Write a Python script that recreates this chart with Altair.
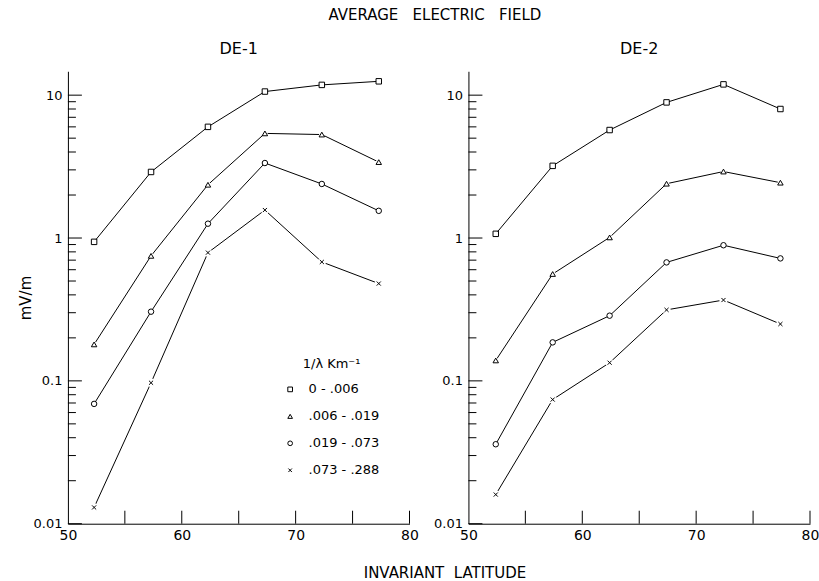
import altair as alt
import pandas as pd

# ---------------- data ----------------
bands = ["0 - .006", ".006 - .019", ".019 - .073", ".073 - .288"]

lat_de1 = [52.3, 57.3, 62.3, 67.3, 72.3, 77.3]
de1_b1 = [0.94, 2.9, 6.0, 10.6, 11.8, 12.5]
de1_b2 = [0.18, 0.75, 2.36, 5.4, 5.3, 3.4]
de1_b3 = [0.069, 0.305, 1.26, 3.35, 2.39, 1.55]
de1_b4 = [0.013, 0.097, 0.79, 1.57, 0.68, 0.48]

lat_de2 = [52.4, 57.4, 62.4, 67.4, 72.4, 77.4]
de2_b1 = [1.07, 3.2, 5.7, 8.9, 11.9, 8.0]
de2_b2 = [0.139, 0.56, 1.01, 2.4, 2.92, 2.44]
de2_b3 = [0.036, 0.186, 0.286, 0.675, 0.89, 0.72]
de2_b4 = [0.016, 0.074, 0.134, 0.314, 0.368, 0.25]

x_label_values = [50, 60, 70, 80]
x_tick_values = [55, 60, 65, 70, 75, 80]
y_major_values = [0.01, 0.1, 1, 10]
y_minor_values = [m * d for d in [0.01, 0.1, 1] for m in range(2, 10)]

# ---------------- style ----------------
FONT = "DejaVu Sans"
NB = "\u00a0"
W, H = 342, 453
x_scale = alt.Scale(domain=[50, 80], nice=False, zero=False)
y_scale = alt.Scale(type="log", domain=[0.01, 14.7], nice=False)
shape_scale = alt.Scale(
    domain=bands,
    range=["square", "triangle-up", "circle", "M-0.75,-0.75L0.75,0.75M-0.75,0.75L0.75,-0.75"],
)


def panel(lats, series, title, left):
    rows = []
    for b, vals in zip(bands, series):
        for la, v in zip(lats, vals):
            rows.append({"lat": la, "E": v, "band": b})
    df = pd.DataFrame(rows)

    if left:
        x_axis = alt.Axis(
            values=x_label_values, ticks=False, grid=False, labelPadding=5,
            labelFlush=False,
            domainColor="black", labelColor="black", labelFontSize=14, labelFont=FONT,
            title="INVARIANT" + NB + NB + "LATITUDE", titleX=377, titleY=49,
            titleBaseline="middle",
            titleAlign="center", titleFont=FONT, titleFontSize=15,
            titleFontWeight="normal", titleColor="black",
        )
        y_axis = alt.Axis(
            values=y_major_values, format=".2~f", ticks=False, grid=False,
            labelPadding=6, domainColor="black", labelColor="black",
            labelFontSize=13, labelFont=FONT,
            title="mV/m", titleX=-42, titleY=H / 2, titleAngle=270,
            titleAlign="center", titleBaseline="middle", titleFont=FONT,
            titleFontSize=15, titleFontWeight="normal", titleColor="black",
        )
        legend = alt.Legend(
            orient="none", legendX=216, legendY=287, title="1/λ Km⁻¹",
            titleFont=FONT, titleFontSize=13, titleFontWeight="normal",
            titleColor="black", titleAnchor="middle", titlePadding=12,
            labelFont=FONT, labelFontSize=13, labelColor="black",
            labelOffset=12, rowPadding=13, padding=0,
            symbolSize=22, symbolStrokeColor="black", symbolStrokeWidth=1,
        )
    else:
        x_axis = alt.Axis(
            values=x_label_values, ticks=False, grid=False, labelPadding=5,
            labelFlush=False,
            domainColor="black", labelColor="black", labelFontSize=14,
            labelFont=FONT, title=None,
        )
        y_axis = alt.Axis(
            values=y_major_values, format=".2~f", ticks=False, grid=False,
            labelPadding=6, domainColor="black", labelColor="black",
            labelFontSize=13, labelFont=FONT, title=None,
        )
        legend = None

    x_enc = alt.X("lat:Q", scale=x_scale, axis=x_axis)
    y_enc = alt.Y("E:Q", scale=y_scale, axis=y_axis)
    xs = alt.X("lat:Q", scale=x_scale)
    ys = alt.Y("E:Q", scale=y_scale)

    lines = alt.Chart(df).mark_line(color="black", strokeWidth=1).encode(
        x=x_enc, y=y_enc, detail="band:N"
    )
    gaps_open = (
        alt.Chart(df)
        .transform_filter(alt.datum.band != bands[3])
        .mark_circle(color="white", opacity=1, size=30)
        .encode(x=xs, y=ys)
    )
    gaps_x = (
        alt.Chart(df)
        .transform_filter(alt.datum.band == bands[3])
        .mark_circle(color="white", opacity=1, size=70)
        .encode(x=xs, y=ys)
    )
    points = alt.Chart(df).mark_point(
        filled=False, color="black", strokeWidth=1, size=30, opacity=1
    ).encode(
        x=xs, y=ys,
        shape=alt.Shape("band:N", scale=shape_scale, legend=legend),
    )

    xt = pd.DataFrame({"lat": x_tick_values})
    x_ticks = alt.Chart(xt).mark_rule(color="black", strokeWidth=1).encode(
        x=xs, y=alt.value(H), y2=alt.value(H - 13)
    )
    ytM = pd.DataFrame({"E": y_major_values})
    y_major = alt.Chart(ytM).mark_rule(color="black", strokeWidth=1).encode(
        y=ys, x=alt.value(0), x2=alt.value(14)
    )
    ytm = pd.DataFrame({"E": y_minor_values})
    y_minor = alt.Chart(ytm).mark_rule(color="black", strokeWidth=1).encode(
        y=ys, x=alt.value(0), x2=alt.value(8)
    )

    return alt.layer(lines, gaps_open, gaps_x, points, x_ticks, y_major, y_minor).properties(
        width=W,
        height=H,
        title=alt.TitleParams(
            title, font=FONT, fontSize=16, fontWeight="normal", color="black",
            anchor="middle", offset=14,
        ),
    )


left = panel(lat_de1, [de1_b1, de1_b2, de1_b3, de1_b4], "DE-1", True)
right = panel(lat_de2, [de2_b1, de2_b2, de2_b3, de2_b4], "DE-2", False)

chart = (
    alt.hconcat(left, right, spacing=59, bounds="flush")
    .resolve_scale(shape="independent")
    .properties(
        title=alt.TitleParams(
            "AVERAGE" + NB * 3 + "ELECTRIC" + NB * 3 + "FIELD", font=FONT, fontSize=15,
            fontWeight="normal", color="black", anchor="middle", offset=18, dx=16,
        ),
        padding={"left": 19, "top": 8, "right": 0, "bottom": 0},
        background="white",
    )
    .configure_view(stroke=None)
)

chart.save("out.html", embed_options={"renderer": "svg", "actions": False})
